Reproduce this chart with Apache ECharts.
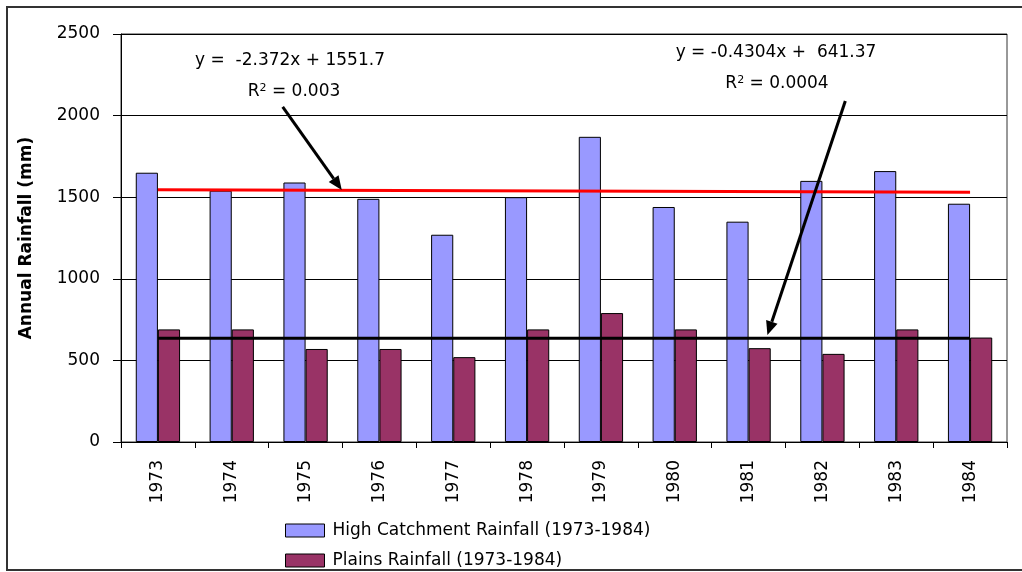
<!DOCTYPE html>
<html>
<head>
<meta charset="utf-8">
<script src="https://cdn.jsdelivr.net/npm/echarts@6/dist/echarts.min.js"></script>
<style>
html,body{margin:0;padding:0;background:#fff;}
#chart{width:1022px;height:572px;}
</style>
</head>
<body>
<div id="chart"></div>
<script>
const years = ['1973','1974','1975','1976','1977','1978','1979','1980','1981','1982','1983','1984'];
const highCatchment = [1650,1540,1590,1490,1270,1500,1870,1440,1350,1600,1660,1460];
const plains = [690,690,570,570,520,690,790,690,575,540,690,640];
const trendHighEnds = [1545,1531];
const trendPlainsEnds = [635,635];
const yMin = 0, yMax = 2500, yStep = 500;
const seriesNames = ['High Catchment Rainfall (1973-1984)','Plains Rainfall (1973-1984)'];
const eqHigh = ['y =  -2.372x + 1551.7', '0.003'];
const eqPlains = ['y = -0.4304x +  641.37', '0.0004'];
// arrow anchors in data units: [category index (fractional), value]
const arrowHigh = [[1.69, 2053],[2.49, 1544]];
const arrowPlains = [[9.31, 2090],[8.255, 655]];

function trendData(ends){
  const d = years.map(()=>null);
  d[0] = ends[0]; d[d.length-1] = ends[1];
  return d;
}

const FONT = 'DejaVu Sans';
const chart = echarts.init(document.getElementById('chart'));
const option = {
  backgroundColor:'#fff',
  animation:false,
  grid:{left:121,right:15,top:34,bottom:130,show:true,borderColor:'#333',borderWidth:1,backgroundColor:'#fff'},
  xAxis:{
    type:'category',data:years,boundaryGap:true,
    axisLine:{lineStyle:{color:'#000',width:1}},
    axisTick:{show:true,length:6,lineStyle:{color:'#000'},alignWithLabel:false},
    axisLabel:{rotate:90,margin:18,color:'#000',fontFamily:FONT,fontSize:17}
  },
  yAxis:{
    type:'value',min:yMin,max:yMax,interval:yStep,
    name:'Annual Rainfall (mm)',nameLocation:'middle',nameGap:86,
    nameTextStyle:{color:'#000',fontFamily:FONT,fontWeight:'bold',fontSize:17},
    axisLine:{show:true,lineStyle:{color:'#000',width:1}},
    axisTick:{show:true,length:8,lineStyle:{color:'#000'}},
    axisLabel:{margin:21,color:'#000',fontFamily:FONT,fontSize:17,formatter:function(v){return String(v);}},
    splitLine:{show:true,lineStyle:{color:'#000',width:1}}
  },
  legend:{
    data:seriesNames,orient:'vertical',left:285,top:522,height:80,
    itemWidth:39,itemHeight:13,itemGap:13,padding:0,
    icon:'rect',
    itemStyle:{borderColor:'#000',borderWidth:1},
    textStyle:{color:'#000',fontFamily:FONT,fontSize:17,padding:[0,0,0,3]}
  },
  series:[
    {name:seriesNames[0],type:'bar',data:highCatchment,barGap:'0%',barCategoryGap:'40%',
     itemStyle:{color:'#9999FF',borderColor:'#000',borderWidth:1}},
    {name:seriesNames[1],type:'bar',data:plains,barGap:'0%',barCategoryGap:'40%',
     itemStyle:{color:'#993366',borderColor:'#000',borderWidth:1}},
    {name:'trendHigh',type:'line',data:trendData(trendHighEnds),connectNulls:true,symbol:'none',
     lineStyle:{color:'#FF0000',width:3},z:5},
    {name:'trendPlains',type:'line',data:trendData(trendPlainsEnds),connectNulls:true,symbol:'none',
     lineStyle:{color:'#000',width:3},z:5}
  ]
};
chart.setOption(option);

function toPixel(pt){
  const i0 = Math.floor(pt[0]), f = pt[0]-i0;
  const a = chart.convertToPixel({gridIndex:0}, [i0, pt[1]]);
  const b = chart.convertToPixel({gridIndex:0}, [i0+1, pt[1]]);
  return [a[0] + f*(b[0]-a[0]), a[1]];
}

function arrowGraphic(a){
  const p0 = toPixel(a[0]);
  const p1 = toPixel(a[1]);
  const dx = p1[0]-p0[0], dy = p1[1]-p0[1];
  const L = Math.sqrt(dx*dx+dy*dy);
  const ux = dx/L, uy = dy/L, nx = -uy, ny = ux;
  const hl = 14, hw = 6;
  const bx = p1[0]-ux*hl, by = p1[1]-uy*hl;
  return [
    {type:'line',shape:{x1:p0[0],y1:p0[1],x2:bx,y2:by},style:{stroke:'#000',lineWidth:3},z:10},
    {type:'polygon',shape:{points:[[p1[0],p1[1]],[bx+nx*hw,by+ny*hw],[bx-nx*hw,by-ny*hw]]},style:{fill:'#000'},z:10}
  ];
}

const eqStyleRich = {sup:{fontSize:11,verticalAlign:'top',padding:[0,0,8,0],fontFamily:FONT,fill:'#000'}};
const graphics = [
  {type:'rect',shape:{x:7,y:7,width:1100,height:563},style:{fill:'none',stroke:'#333',lineWidth:2},z:0,silent:true},
  {type:'text',x:290,y:61,style:{text:eqHigh[0],font:'17px "DejaVu Sans"',fill:'#000',align:'center',verticalAlign:'middle'},z:10},
  {type:'text',x:294,y:92,style:{text:'R{sup|2} = '+eqHigh[1],font:'17px "DejaVu Sans"',fill:'#000',align:'center',verticalAlign:'middle',rich:eqStyleRich},z:10},
  {type:'text',x:776,y:53,style:{text:eqPlains[0],font:'17px "DejaVu Sans"',fill:'#000',align:'center',verticalAlign:'middle'},z:10},
  {type:'text',x:777,y:84,style:{text:'R{sup|2} = '+eqPlains[1],font:'17px "DejaVu Sans"',fill:'#000',align:'center',verticalAlign:'middle',rich:eqStyleRich},z:10}
].concat(arrowGraphic(arrowHigh), arrowGraphic(arrowPlains));
chart.setOption({graphic:graphics});
</script>
</body>
</html>
